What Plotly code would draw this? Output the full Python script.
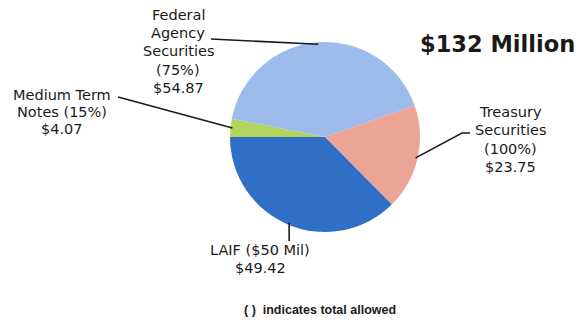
import math
import plotly.graph_objects as go

# Portfolio holdings ($ millions), clockwise from 9 o'clock
categories = ["Medium Term Notes", "Federal Agency Securities", "Treasury Securities", "LAIF"]
values = [4.07, 54.87, 23.75, 49.42]
limits = ["(15%)", "(75%)", "(100%)", "($50 Mil)"]
colors = ["#B4D45C", "#9DBCEC", "#EBA496", "#2F70C6"]
total_label = "$132 Million"
note = "( )  indicates total allowed"

W, H = 579, 320
CX, CY, R = 325, 137, 95  # pie centre / radius in pixels
START = 270  # degrees clockwise from 12 o'clock


def px(x, y):
    return x / W, 1 - y / H


fig = go.Figure(go.Pie(
    labels=categories,
    values=values,
    marker=dict(colors=colors, line=dict(width=0)),
    sort=False,
    direction="clockwise",
    rotation=START,
    textinfo="none",
    hoverinfo="label+value",
    domain=dict(x=[(CX - R) / W, (CX + R) / W], y=[1 - (CY + R) / H, 1 - (CY - R) / H]),
    showlegend=False,
))

# Mid-angle of each slice (clockwise from 12 o'clock)
total = sum(values)
mids = {}
a = START
for c, v in zip(categories, values):
    span = 360 * v / total
    mids[c] = (a + span / 2) % 360
    a += span


def edge(cat, r=R):
    t = math.radians(mids[cat])
    return CX + r * math.sin(t), CY - r * math.cos(t)


def label_lines(cat):
    i = categories.index(cat)
    money = f"${values[i]:.2f}"
    if cat == "Federal Agency Securities":
        return ["Federal", "Agency", "Securities", limits[i], money]
    if cat == "Medium Term Notes":
        return ["Medium Term", f"Notes {limits[i]}", money]
    if cat == "Treasury Securities":
        return ["Treasury", "Securities", limits[i], money]
    return [f"LAIF {limits[i]}", money]


# label centre x, first-line y, line step, leader-line elbows
layout_spec = {
    "Federal Agency Securities": (178, 15, 18.2, [(211, 39)]),
    "Medium Term Notes": (62, 95, 17, [(118, 97)]),
    "Treasury Securities": (510, 112, 18.3, [(470, 133), (462, 133)]),
    "LAIF": (260, 250, 18, None),
}

shapes = []
annotations = []
for cat, (lx, ly0, step, elbows) in layout_spec.items():
    for k, line in enumerate(label_lines(cat)):
        fx, fy = px(lx, ly0 + k * step)
        annotations.append(dict(text=line, x=fx, y=fy, xref="paper", yref="paper",
                                xanchor="center", yanchor="middle", showarrow=False,
                                font=dict(family="DejaVu Sans", size=14.5, color="#1a1a1a")))
    ex, ey = edge(cat, R - 2)
    if elbows is None:
        pts = [(ex, 241), (ex, ey)]
    else:
        pts = elbows + [(ex, ey)]
    path = "M " + " L ".join(f"{px(x, y)[0]},{px(x, y)[1]}" for x, y in pts)
    shapes.append(dict(type="path", path=path, xref="paper", yref="paper",
                       line=dict(color="#1a1a1a", width=1.6)))

tx, ty = px(498, 44)
annotations.append(dict(text=f"<b>{total_label}</b>", x=tx, y=ty, xref="paper", yref="paper",
                        xanchor="center", yanchor="middle", showarrow=False,
                        font=dict(family="DejaVu Sans", size=22.5, color="#1a1a1a")))
nx, ny = px(320, 310)
annotations.append(dict(text=f"<b>{note}</b>", x=nx, y=ny, xref="paper", yref="paper",
                        xanchor="center", yanchor="middle", showarrow=False,
                        font=dict(family="Liberation Sans", size=12.5, color="#1a1a1a")))

fig.update_layout(
    width=W, height=H,
    margin=dict(l=0, r=0, t=0, b=0),
    paper_bgcolor="white", plot_bgcolor="white",
    shapes=shapes, annotations=annotations,
)

fig.write_html("out.html")
